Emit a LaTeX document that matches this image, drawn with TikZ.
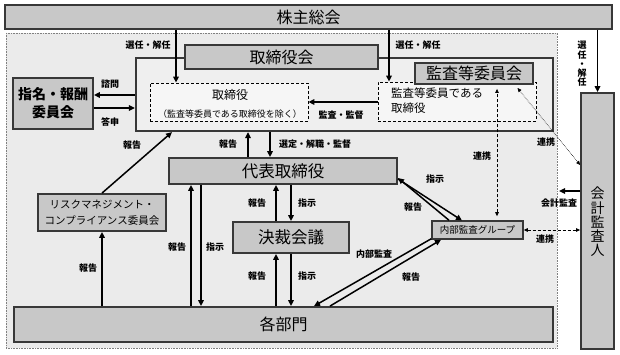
\documentclass[tikz,border=0pt]{standalone}
\usepackage{fontspec}
\setmainfont{Noto Sans CJK JP}
\usetikzlibrary{arrows.meta}
\definecolor{boxfill}{HTML}{C8C8C8}
\definecolor{boxline}{HTML}{383838}
\definecolor{regfill}{HTML}{EBEBEB}
\definecolor{framefill}{HTML}{EFEFEF}
\definecolor{dashfill}{HTML}{F6F6F6}
\begin{document}
\begin{tikzpicture}[x=1pt,y=-1pt,
  gbox/.style={draw=boxline,fill=boxfill,line width=1.8pt,inner sep=0pt,anchor=center},
  dbox/.style={draw=black,fill=dashfill,line width=0.8pt,densely dashed,inner sep=0pt},
  big/.style={font=\fontsize{16}{18}\selectfont},
  lab/.style={font=\bfseries\fontsize{9}{10}\selectfont,inner sep=0pt},
  arr/.style={line width=1.5pt,-{Triangle[length=6pt,width=5.5pt]}},
  darr/.style={line width=0.8pt,densely dashed,{Triangle[length=4pt,width=3.5pt]}-{Triangle[length=4pt,width=3.5pt]}},
  dotarr/.style={line width=0.6pt,densely dotted,{Triangle[length=4pt,width=3.5pt]}-{Triangle[length=4pt,width=3.5pt]}}
]
\useasboundingbox (0,0) rectangle (620,355);
\fill[white] (0,0) rectangle (620,355);
% outer region
\draw[fill=regfill,draw=gray,line width=0.6pt,densely dotted] (6,33) rectangle (557,348);

% boxes
\node[gbox,big,minimum width=607pt,minimum height=24pt] (kabu) at (308.5,17) {株主総会};
\node[draw=boxline,fill=framefill,line width=2.2pt,minimum width=417pt,minimum height=73pt,inner sep=0pt] (frame) at (344.5,94.5) {};
\node[gbox,big,minimum width=193pt,minimum height=24pt] (torikai) at (281.5,57) {取締役会};
\node[dbox,minimum width=158pt,minimum height=38pt] (tb1) at (229,102) {};
\node[dbox,minimum width=158pt,minimum height=39pt] (tb2) at (457,101.5) {};
\node[gbox,big,minimum width=118pt,minimum height=21pt] (kansakai) at (474,73.5) {監査等委員会};
\node[inner sep=0pt,font=\fontsize{12}{14}\selectfont] (tb1a) at (230,95) {取締役};
\node[inner sep=0pt,font=\fontsize{9}{11}\selectfont] (tb1b) at (230,114) {（監査等委員である取締役を除く）};
\node[inner sep=0pt,font=\fontsize{11.5}{15}\selectfont,align=left,anchor=north west] (tb2a) at (391,88) {監査等委員である\\取締役};

\node[gbox,font=\bfseries\fontsize{14}{18}\selectfont,align=center,minimum width=80pt,minimum height=51pt] (shimei) at (53,103.5) {指名・報酬\\委員会};
\node[gbox,font=\fontsize{10.5}{16}\selectfont,align=center,minimum width=128pt,minimum height=37pt] (risk) at (102,212.5) {リスクマネジメント・\\コンプライアンス委員会};
\node[gbox,font=\fontsize{16.5}{18}\selectfont,minimum width=228pt,minimum height=26pt] (daihyo) at (283,171) {代表取締役};
\node[gbox,font=\fontsize{16.5}{18}\selectfont,minimum width=116pt,minimum height=31pt] (kessai) at (291,237.5) {決裁会議};
\node[gbox,font=\fontsize{9.5}{11}\selectfont,line width=1.5pt,minimum width=91pt,minimum height=18pt] (naibu) at (477.5,230) {内部監査グループ};
\node[gbox,big,minimum width=539pt,minimum height=35pt] (kakubu) at (283.5,324.5) {各部門};
\node[gbox,minimum width=33pt,minimum height=256pt] (kaikei) at (597.5,221) {};
\node[inner sep=0pt,align=center,font=\fontsize{14}{14.2}\selectfont] (kaikeit) at (597.5,222) {会\\計\\監\\査\\人};

% solid arrows
\draw[arr] (kabu.south -| 176,0) -- (tb1.north -| 176,0);
\draw[arr] (kabu.south -| 389,0) -- (tb2.north -| 389,0);
\draw[arr] (kabu.south -| kaikei.north) -- (kaikei.north);
\draw[arr] (tb2.west |- 0,102) -- (tb1.east |- 0,102);
\draw[arr] (frame.west |- 0,95) -- (shimei.east |- 0,95);
\draw[arr] (shimei.east |- 0,108) -- (frame.west |- 0,108);
\draw[arr] (risk.north) -- (frame.south -| 172,0);
\draw[arr] (kakubu.north -| risk.south) -- (risk.south);
\draw[arr] (daihyo.north -| 248,0) -- (frame.south -| 248,0);
\draw[arr] (frame.south -| 270,0) -- (daihyo.north -| 270,0);
\draw[arr] (kakubu.north -| 191,0) -- (daihyo.south -| 191,0);
\draw[arr] (daihyo.south -| 201,0) -- (kakubu.north -| 201,0);
\draw[arr] (kessai.north -| 276,0) -- (daihyo.south -| 276,0);
\draw[arr] (daihyo.south -| 291,0) -- (kessai.north -| 291,0);
\draw[arr] (kakubu.north -| 276,0) -- (kessai.south -| 276,0);
\draw[arr] (kessai.south -| 291,0) -- (kakubu.north -| 291,0);
\draw[arr] (daihyo.south east) ++(0,-6) coordinate (d1) (d1) -- (462,220.5);
\draw[arr] (naibu.north -| 449,0) -- (398,178);
\draw[arr] (naibu.south west) ++(0,-1) coordinate (n1) (n1) -- (kakubu.north -| 314,0);
\draw[arr] (kakubu.north -| 330,0) -- (naibu.south -| 441,0);
\coordinate (edge) at (559,191);
\draw[arr] (kaikei.west |- edge) -- (edge);

% dashed / dotted arrows
\draw[darr] (naibu.east) -- (kaikei.west |- naibu.east);
\draw[darr,shorten <=4pt,shorten >=4pt] (naibu.north -| 497,0) -- (kansakai.south -| 497,0);
\draw[dotarr,shorten >=4pt] (kaikei.west |- 0,165) -- (kansakai.south -| 515,0);

% labels
\node[lab] (l1) at (148,45) {選任・解任};
\node[lab] (l2) at (418,45) {選任・解任};
\node[lab,align=center,font=\bfseries\fontsize{9}{9.2}\selectfont] (l3) at (582,64) {選\\任\\・\\解\\任};
\node[lab] (l4) at (110,84) {諮問};
\node[lab] (l5) at (110,122) {答申};
\node[lab] (l6) at (341,115) {監査・監督};
\node[lab] (l7) at (132,145) {報告};
\node[lab] (l8) at (228,144) {報告};
\node[lab] (l9) at (315,144) {選定・解職・監督};
\node[lab] (l10) at (482,156) {連携};
\node[lab] (l11) at (546,142) {連携};
\node[lab] (l12) at (435,179) {指示};
\node[lab] (l13) at (413,207) {報告};
\node[lab] (l14) at (559,203) {会計監査};
\node[lab] (l15) at (545,239) {連携};
\node[lab] (l16) at (257,203) {報告};
\node[lab] (l17) at (307,203) {指示};
\node[lab] (l18) at (177,247) {報告};
\node[lab] (l19) at (215,247) {指示};
\node[lab] (l20) at (257,276) {報告};
\node[lab] (l21) at (307,276) {指示};
\node[lab] (l22) at (374,254) {内部監査};
\node[lab] (l23) at (411,277) {報告};
\node[lab] (l24) at (88,268) {報告};
\end{tikzpicture}
\end{document}
